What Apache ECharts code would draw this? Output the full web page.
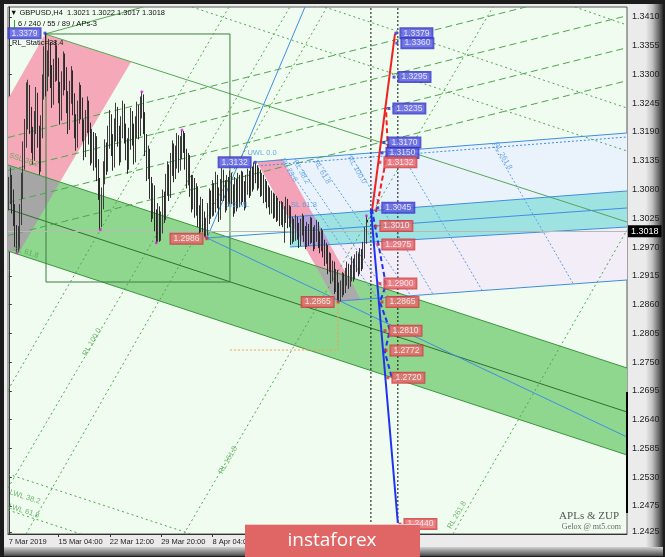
<!DOCTYPE html>
<html><head><meta charset="utf-8">
<script src="https://cdn.jsdelivr.net/npm/echarts@6/dist/echarts.min.js"></script>
<style>
html,body{margin:0;padding:0;background:#1c1c1c;overflow:hidden}
#frame{position:absolute;left:0;top:0;width:665px;height:557px;background:#1c1c1c;overflow:hidden}
#panel{position:absolute;left:4px;top:4px;width:646px;height:546px;background:#ebebeb}
#rg{position:absolute;left:645px;top:4px;width:18px;height:550px;background:linear-gradient(to right,#eeeeee 0%,#c2c2c2 40%,#6e6e6e 75%,#2a2a2a 100%)}
#bg{position:absolute;left:4px;top:547px;width:659px;height:9px;background:linear-gradient(to bottom,#d2d2d2,#4a4a4a)}
#chart{position:absolute;left:0;top:0;width:665px;height:557px}
</style></head>
<body><div id="frame"><div id="panel"></div><div id="rg"></div><div id="bg"></div><div id="chart"></div></div>
<script>
// ---- OHLC bars (H4), each [open, close, low, high]
const bars = [
[1.3060,1.3072,1.3040,1.3104],[1.3072,1.3088,1.3052,1.3122],[1.3088,1.3058,1.3034,1.3108],[1.3058,1.3036,1.3010,1.3080],[1.3036,1.2990,1.2970,1.3052],[1.2990,1.2968,1.2959,1.3012],
[1.2968,1.2978,1.2960,1.3010],[1.2978,1.3025,1.2966,1.3052],[1.3025,1.3085,1.3012,1.3112],[1.3085,1.3142,1.3062,1.3172],[1.3142,1.3186,1.3118,1.3215],[1.3186,1.3238,1.3160,1.3285],[1.3238,1.3262,1.3195,1.3290],[1.3262,1.3214,1.3186,1.3280],
[1.3214,1.3176,1.3150,1.3238],[1.3176,1.3152,1.3128,1.3200],[1.3152,1.3205,1.3135,1.3230],[1.3205,1.3248,1.3186,1.3276],[1.3248,1.3182,1.3160,1.3265],[1.3182,1.3130,1.3108,1.3202],[1.3130,1.3196,1.3114,1.3222],[1.3196,1.3275,1.3178,1.3300],[1.3275,1.3325,1.3252,1.3354],[1.3325,1.3290,1.3258,1.3379],
[1.3290,1.3318,1.3268,1.3346],[1.3318,1.3342,1.3296,1.3368],[1.3342,1.3296,1.3274,1.3362],[1.3296,1.3260,1.3236,1.3318],[1.3260,1.3305,1.3242,1.3330],[1.3305,1.3338,1.3286,1.3365],[1.3338,1.3312,1.3288,1.3356],[1.3312,1.3268,1.3245,1.3332],[1.3268,1.3230,1.3204,1.3286],[1.3230,1.3282,1.3212,1.3306],[1.3282,1.3320,1.3260,1.3344],
[1.3320,1.3295,1.3270,1.3340],[1.3295,1.3248,1.3226,1.3314],[1.3248,1.3212,1.3186,1.3268],[1.3212,1.3265,1.3194,1.3288],[1.3265,1.3290,1.3244,1.3316],[1.3290,1.3246,1.3222,1.3308],[1.3246,1.3202,1.3178,1.3264],[1.3202,1.3178,1.3154,1.3224],[1.3178,1.3226,1.3160,1.3250],[1.3226,1.3262,1.3206,1.3285],[1.3262,1.3238,1.3214,1.3280],
[1.3238,1.3196,1.3172,1.3256],[1.3196,1.3160,1.3136,1.3214],[1.3160,1.3208,1.3142,1.3232],[1.3208,1.3232,1.3188,1.3258],[1.3232,1.3190,1.3166,1.3250],[1.3190,1.3150,1.3126,1.3208],[1.3150,1.3172,1.3130,1.3196],[1.3172,1.3140,1.3116,1.3190],[1.3140,1.3165,1.3122,1.3188],[1.3165,1.3120,1.3096,1.3182],[1.3120,1.3085,1.3060,1.3138],
[1.3085,1.3020,1.3003,1.3102],[1.3020,1.3060,1.3008,1.3084],
[1.3060,1.3110,1.3042,1.3134],[1.3110,1.3150,1.3090,1.3176],[1.3150,1.3132,1.3108,1.3170],[1.3132,1.3178,1.3114,1.3202],[1.3178,1.3205,1.3158,1.3232],[1.3205,1.3168,1.3144,1.3224],[1.3168,1.3140,1.3116,1.3186],[1.3140,1.3192,1.3122,1.3216],[1.3192,1.3220,1.3172,1.3246],[1.3220,1.3185,1.3162,1.3238],[1.3185,1.3150,1.3126,1.3202],[1.3150,1.3198,1.3132,1.3220],
[1.3198,1.3226,1.3178,1.3250],[1.3226,1.3190,1.3168,1.3244],[1.3190,1.3160,1.3136,1.3206],[1.3160,1.3135,1.3110,1.3178],[1.3135,1.3176,1.3118,1.3198],[1.3176,1.3212,1.3156,1.3236],[1.3212,1.3188,1.3164,1.3230],[1.3188,1.3150,1.3128,1.3206],[1.3150,1.3198,1.3132,1.3220],[1.3198,1.3224,1.3178,1.3248],[1.3224,1.3200,1.3176,1.3242],[1.3200,1.3238,1.3182,1.3258],[1.3238,1.3252,1.3216,1.3267],
[1.3252,1.3210,1.3186,1.3262],[1.3210,1.3168,1.3144,1.3228],[1.3168,1.3120,1.3096,1.3186],[1.3120,1.3140,1.3100,1.3164],[1.3140,1.3086,1.3062,1.3158],[1.3086,1.3042,1.3018,1.3104],[1.3042,1.3070,1.3024,1.3092],[1.3070,1.3024,1.3000,1.3088],[1.3024,1.2996,1.2978,1.3042],[1.2996,1.3030,1.2980,1.3054],[1.3030,1.2990,1.2980,1.3048],
[1.2990,1.3015,1.2982,1.3038],[1.3015,1.3058,1.2996,1.3080],[1.3058,1.3040,1.3016,1.3076],[1.3040,1.3088,1.3022,1.3110],[1.3088,1.3110,1.3068,1.3134],[1.3110,1.3082,1.3058,1.3128],[1.3082,1.3126,1.3064,1.3150],[1.3126,1.3150,1.3106,1.3174],[1.3150,1.3118,1.3094,1.3168],[1.3118,1.3140,1.3100,1.3164],[1.3140,1.3166,1.3120,1.3188],[1.3166,1.3135,1.3112,1.3184],[1.3135,1.3158,1.3116,1.3182],[1.3158,1.3180,1.3138,1.3194],[1.3180,1.3172,1.3150,1.3192],
[1.3172,1.3140,1.3118,1.3188],[1.3140,1.3105,1.3082,1.3158],[1.3105,1.3128,1.3088,1.3150],[1.3128,1.3090,1.3066,1.3146],[1.3090,1.3060,1.3036,1.3108],[1.3060,1.3085,1.3042,1.3108],[1.3085,1.3048,1.3026,1.3102],[1.3048,1.3070,1.3030,1.3092],[1.3070,1.3030,1.3008,1.3086],[1.3030,1.3012,1.2994,1.3050],[1.3012,1.3045,1.2998,1.3066],[1.3045,1.3020,1.2998,1.3062],[1.3020,1.3000,1.2990,1.3038],[1.3000,1.3005,1.2988,1.3026],
[1.3005,1.3032,1.2992,1.3054],[1.3032,1.3060,1.3014,1.3082],[1.3060,1.3045,1.3024,1.3078],[1.3045,1.3075,1.3028,1.3098],[1.3075,1.3052,1.3030,1.3092],[1.3052,1.3090,1.3036,1.3114],[1.3090,1.3066,1.3044,1.3108],[1.3066,1.3040,1.3018,1.3084],[1.3040,1.3078,1.3022,1.3100],[1.3078,1.3105,1.3058,1.3121],[1.3105,1.3080,1.3058,1.3118],[1.3080,1.3058,1.3036,1.3098],[1.3058,1.3086,1.3040,1.3108],[1.3086,1.3070,1.3048,1.3104],[1.3070,1.3095,1.3052,1.3116],
[1.3095,1.3074,1.3052,1.3112],[1.3074,1.3050,1.3028,1.3090],[1.3050,1.3082,1.3034,1.3104],[1.3082,1.3060,1.3038,1.3100],[1.3060,1.3090,1.3044,1.3112],[1.3090,1.3068,1.3046,1.3108],[1.3068,1.3095,1.3050,1.3116],[1.3095,1.3078,1.3056,1.3114],[1.3078,1.3060,1.3040,1.3096],[1.3060,1.3088,1.3044,1.3108],[1.3088,1.3100,1.3070,1.3120],[1.3100,1.3085,1.3064,1.3116],[1.3085,1.3108,1.3068,1.3126],[1.3108,1.3096,1.3076,1.3124],[1.3096,1.3120,1.3080,1.3132],
[1.3120,1.3112,1.3092,1.3130],[1.3112,1.3098,1.3078,1.3126],[1.3098,1.3105,1.3082,1.3122],[1.3105,1.3086,1.3066,1.3118],[1.3086,1.3094,1.3068,1.3112],[1.3094,1.3075,1.3054,1.3108],[1.3075,1.3082,1.3056,1.3100],[1.3082,1.3064,1.3044,1.3096],[1.3064,1.3070,1.3046,1.3088],[1.3070,1.3052,1.3032,1.3084],[1.3052,1.3060,1.3034,1.3078],
[1.3060,1.3044,1.3024,1.3074],[1.3044,1.3056,1.3026,1.3072],[1.3056,1.3038,1.3018,1.3068],[1.3038,1.3046,1.3020,1.3064],[1.3046,1.3030,1.3010,1.3058],[1.3030,1.3042,1.3012,1.3058],[1.3042,1.3028,1.3008,1.3056],[1.3028,1.3035,1.2978,1.3048],[1.3035,1.3048,1.3016,1.3066],[1.3048,1.3026,1.3006,1.3062],[1.3026,1.3034,1.3008,1.3050],
[1.3034,1.2992,1.2974,1.3048],[1.2992,1.3010,1.2976,1.3028],[1.3010,1.2998,1.2980,1.3024],[1.2998,1.3015,1.2982,1.3032],[1.3015,1.3002,1.2984,1.3028],[1.3002,1.2985,1.2968,1.3016],[1.2985,1.3008,1.2972,1.3024],[1.3008,1.3018,1.2992,1.3034],[1.3018,1.2996,1.2980,1.3030],[1.2996,1.2982,1.2966,1.3010],[1.2982,1.3000,1.2970,1.3018],
[1.3000,1.2990,1.2972,1.3014],[1.2990,1.3012,1.2976,1.3028],[1.3012,1.2995,1.2978,1.3026],[1.2995,1.2978,1.2962,1.3008],[1.2978,1.2996,1.2966,1.3012],[1.2996,1.3005,1.2980,1.3022],[1.3005,1.2986,1.2968,1.3018],[1.2986,1.2975,1.2958,1.3000],[1.2975,1.2990,1.2962,1.3006],[1.2990,1.2970,1.2950,1.3002],
[1.2970,1.2955,1.2934,1.2984],[1.2955,1.2962,1.2938,1.2978],[1.2962,1.2938,1.2918,1.2974],[1.2938,1.2945,1.2922,1.2960],[1.2945,1.2920,1.2900,1.2958],[1.2920,1.2928,1.2904,1.2944],[1.2928,1.2900,1.2880,1.2942],[1.2900,1.2912,1.2884,1.2928],[1.2912,1.2885,1.2868,1.2926],[1.2885,1.2875,1.2865,1.2902],[1.2875,1.2890,1.2866,1.2906],
[1.2890,1.2905,1.2874,1.2922],[1.2905,1.2895,1.2878,1.2920],[1.2895,1.2912,1.2882,1.2930],[1.2912,1.2925,1.2896,1.2942],[1.2925,1.2908,1.2890,1.2938],[1.2908,1.2918,1.2894,1.2936],[1.2918,1.2935,1.2904,1.2952],[1.2935,1.2920,1.2904,1.2948],[1.2920,1.2938,1.2908,1.2956],[1.2938,1.2945,1.2922,1.2962],[1.2945,1.2930,1.2914,1.2958],[1.2930,1.2952,1.2918,1.2968],[1.2952,1.2940,1.2924,1.2966],[1.2940,1.2962,1.2928,1.2980],[1.2962,1.2990,1.2948,1.3008],[1.2990,1.3021,1.2976,1.3030],[1.3021,1.3018,1.3017,1.3022]
];
const lastPrice = 1.3018;

// ---- axis ticks
const timeLabelBars = [0, 31, 63, 95, 127];
const timeLabels = ['7 Mar 2019', '15 Mar 04:00', '22 Mar 12:00', '29 Mar 20:00', '8 Apr 04:00'];
const priceTicks = [1.3410,1.3355,1.3300,1.3245,1.3190,1.3135,1.3080,1.3025,1.2970,1.2915,1.2860,1.2805,1.2750,1.2695,1.2640,1.2585,1.2530,1.2475,1.2425];

// ---- shaded zones [bar, price]
const greenBand = [[-0.5,1.31269],[385.5,1.27386],[385.5,1.25722],[-0.5,1.29624]];
const pinkZone = [[22.6,1.33775],[76.2,1.33239],[31.9,1.30944],[-0.5,1.31269],[-0.5,1.32531]];
const grayZone = [[-0.5,1.31269],[31.9,1.30944],[7.0,1.29624],[-0.5,1.29624]];
const blueTint = [[170.3,1.31384],[385.5,1.31881],[385.5,1.30772],[190.1,1.30309]];
const lavenderZone = [[200.5,1.29746],[385.5,1.30083],[385.5,1.29069],[219.6,1.28696]];
const cyanBand = [[175.3,1.30274],[385.5,1.30772],[385.5,1.30083],[175.3,1.29701]];
const pinkBand = [[154.7,1.31326],[170.3,1.31384],[219.6,1.28687],[204.0,1.28648]];
const purpleZone = [[174.2,1.30272],[190.1,1.30309],[200.5,1.29746],[184.4,1.29718]];
const grayZone2 = [[191.5,1.29328],[211.7,1.29134],[219.6,1.28687],[204.0,1.28648]];

// ---- lines [bar, price]
const chanTop = [[-0.5,1.31269],[385.5,1.27386]];
const chanBot = [[-0.5,1.29624],[385.5,1.25722]];
const chanMid = [[-0.5,1.30427],[385.5,1.26544]];
const upperGreen = [[22.6,1.33775],[385.5,1.30179]];
const greenSteep = [[22.6,1.33775],[83.7,1.34291]];
const boxRect = [[23.2,1.33775],[137.9,1.33775],[137.9,1.29031],[23.2,1.29031],[23.2,1.33775]];
const greenDashed = [
  [[-0.5,1.31795],[322.4,1.34291]],
  [[-0.5,1.31164],[385.5,1.34124]],
  [[-0.5,1.30552],[385.5,1.33512]],
  [[-0.5,1.29921],[385.5,1.32881]]
];
const greenDotted = [
  [[114.2,1.34291],[385.5,1.31537]],
  [[197.1,1.34291],[385.5,1.32359]],
  [[353.0,1.34291],[385.5,1.33947]],
  [[-0.5,1.25358],[113.6,1.24211]],
  [[-0.5,1.24670],[45.0,1.24211]],
  [[-0.5,1.25091],[175.3,1.34291]],
  [[109.2,1.24211],[301.9,1.34291]],
  [[276.9,1.24211],[385.5,1.30026]],
  [[-0.5,1.26965],[137.3,1.34291]],
  [[10.7,1.24211],[198.4,1.34291]]
];
const blueTop = [[153.6,1.31326],[385.5,1.31881]];
const blueTopDot = [[154.7,1.31250],[385.5,1.31805]];
const cyanTop = [[175.3,1.30274],[385.5,1.30772]];
const cyanMid = [[123.6,1.29873],[385.5,1.30447]];
const cyanBot = [[175.3,1.29701],[385.5,1.30083]];
const blueLower = [[205.9,1.28668],[385.5,1.29069]];
const bluePivotDown = [[123.6,1.29873],[385.5,1.26066]];
const bluePivotUp = [[123.6,1.29873],[184.7,1.34291]];
const blueRL = [
  [[170.3,1.31384],[229.6,1.28725]],
  [[178.4,1.31384],[237.0,1.28744]],
  [[191.5,1.31422],[250.0,1.28801]],
  [[212.8,1.31479],[264.5,1.28801]],
  [[243.9,1.31537],[295.0,1.28878]],
  [[301.2,1.31690],[351.7,1.29012]]
];
const orangeDot = [[137.9,1.27730],[205.2,1.27730],[205.2,1.28648]];
const vLine1 = [[225.8,1.24211],[225.8,1.34291]];
const vLine2 = [[242.6,1.24211],[242.6,1.34291]];
const zupRed = [[226.4,1.30370],[240.8,1.33775]];
const zupRedDash = [[228.9,1.30370],[236.4,1.31556],[235.2,1.32359]];
const zupBlue = [[225.8,1.30427],[242.6,1.24421]];
const zupBlueDash = [[226.4,1.30427],[235.2,1.28974],[231.4,1.28648],[237.6,1.28113],[234.5,1.27692],[238.9,1.27195]];

// ---- ZUP price labels
const zupBars = [241.4,242.0,240.2,237.0,233.9,232.7,231.4,230.1,228.9,230.1,231.4,232.7,234.6,235.2,236.4,243.9];
const zupPrices = [1.3379,1.3360,1.3295,1.3235,1.3170,1.3150,1.3132,1.3045,1.3010,1.2975,1.2900,1.2865,1.2810,1.2772,1.2720,1.2440];
const zupKinds = ['b','b','b','b','b','b','r','b','r','r','r','r','r','r','r','r'];
const pivotBars = [22.6,153.6,123.6,205.4];
const pivotPrices = [1.3379,1.3132,1.2986,1.2865];
const pivotKinds = ['b','b','r','r'];
const extremeBars = [5,57,83,92,108,123,223];
const extremePrices = [1.2959,1.3003,1.3267,1.2978,1.3194,1.2988,1.3030];

// ---- level captions
const captions = [
  {t:'UWL 0.0', b:157.9, p:1.31499, c:'b', r:0},
  {t:'RL 23.6', b:174.7, p:1.31173, c:'b', r:-60},
  {t:'RL 38.2', b:182.4, p:1.31135, c:'b', r:-60},
  {t:'RL 61.8', b:195.3, p:1.31135, c:'b', r:-60},
  {t:'RL 100.0', b:217.1, p:1.31173, c:'b', r:-60},
  {t:'RL 261.8', b:308.1, p:1.31441, c:'b', r:-60},
  {t:'1/2 ML', b:142.9, p:1.30504, c:'b', r:0},
  {t:'SL 61.8', b:184.0, p:1.30504, c:'b', r:0},
  {t:'SSL 38.2', b:9.5, p:1.31365, c:'g', r:-18},
  {t:'SL 61.8', b:10.7, p:1.29605, c:'g', r:-18},
  {t:'RL 100.0', b:51.9, p:1.27883, c:'g', r:60},
  {t:'RL 161.8', b:136.7, p:1.25626, c:'g', r:60},
  {t:'RL 261.8', b:279.4, p:1.24574, c:'g', r:60},
  {t:'LWL 38.2', b:10.1, p:1.24918, c:'g', r:-18},
  {t:'LWL 61.8', b:9.5, p:1.24651, c:'g', r:-18}
];

const FONT = 'Liberation Sans';
const BLUE = '#3f8ee0';
const GREEN = '#4ea64e';

function poly(pts, color, z) {
  return {type:'custom', coordinateSystem:'cartesian2d', silent:true, clip:true, z:z, data:[pts[0]],
    renderItem:function(params, api){
      return {type:'polygon', shape:{points: pts.map(function(p){return api.coord(p);})}, style:{fill:color}};
    }};
}
function line(pts, color, type, width, z) {
  return {type:'line', data:pts, symbol:'none', silent:true, clip:true, z:z||3,
    lineStyle:{color:color, width:width||1, type:type||'solid'}};
}
function boxLabel(kind, pos) {
  const red = kind === 'r';
  return {show:true, position:pos, distance:3, fontFamily:FONT, fontSize:8.5, color:'#fff',
    backgroundColor: red ? '#e8656b' : '#5656e0', borderColor: red ? '#c83838' : '#2f2fc0', borderWidth:1,
    padding:[1,3,0,3], formatter:function(p){return p.value[1].toFixed(4);}};
}

const series = [
  poly(blueTint, '#eaf3fb', 1),
  poly(lavenderZone, '#f3edf8', 1),
  poly(greenBand, '#8fd68f', 1),
  poly(pinkZone, '#f5a9b8', 1),
  poly(grayZone, '#a6a6a6', 1),
  poly(cyanBand, '#9fe2e2', 1),
  poly(pinkBand, '#f3a2b7', 1),
  poly(purpleZone, '#b5a0de', 1),
  poly(grayZone2, '#ababab', 1),
  line(chanTop, '#3c963c'), line(chanBot, '#3c963c'), line(chanMid, '#2f6f2f'),
  line(upperGreen, '#56a656'), line(greenSteep, '#56a656'), line(boxRect, '#3f7c3f'),
  line(blueTop, BLUE), line(blueTopDot, BLUE, [2,2]),
  line(cyanTop, BLUE), line(cyanMid, BLUE), line(cyanBot, BLUE),
  line(blueLower, BLUE), line(bluePivotDown, BLUE), line(bluePivotUp, BLUE),
  line(orangeDot, '#f0a050', [2,2]),
  line(vLine1, '#111', [2,2]), line(vLine2, '#111', [2,2])
];
greenDashed.forEach(function(l){ series.push(line(l, GREEN, [7,4])); });
greenDotted.forEach(function(l){ series.push(line(l, GREEN, [2,3])); });
blueRL.forEach(function(l){ series.push(line(l, '#5aa0e8', [2,2])); });

series.push({
  type:'candlestick', z:5, silent:true, barWidth:1.2,
  data: bars.map(function(b, i){ return [i, b[0], b[1], b[2], b[3]]; }),
  encode:{x:0, y:[1,2,3,4]},
  itemStyle:{color:'#3c3c3c', color0:'#2a2a2a', borderColor:'#3c3c3c', borderColor0:'#2a2a2a', borderWidth:1},
  markLine:{silent:true, symbol:'none', animation:false,
    lineStyle:{color:'#b8b8b8', type:'solid', width:1},
    label:{show:true, position:'end', distance:1, formatter: lastPrice.toFixed(4), fontFamily:FONT, fontSize:9,
      color:'#fff', backgroundColor:'#000', padding:[2,3,1,3]},
    data:[{yAxis:lastPrice}]}
});

series.push(line(zupRed, '#ee2222', 'solid', 2, 6));
series.push(line(zupRedDash, '#ee2222', [5,3], 2, 6));
series.push(line(zupBlue, '#2233ee', 'solid', 2, 6));
series.push(line(zupBlueDash, '#2233ee', [5,3], 2, 6));

series.push({type:'scatter', z:8, silent:true, symbol:'rect', symbolSize:3,
  data: zupBars.map(function(b, i){ return {value:[b, zupPrices[i]],
    itemStyle:{color: zupKinds[i]==='r' ? '#d83030' : '#3030d0'}, label: boxLabel(zupKinds[i], 'right')}; })
});
series.push({type:'scatter', z:8, silent:true, symbol:'rect', symbolSize:3,
  data: pivotBars.map(function(b, i){ return {value:[b, pivotPrices[i]],
    itemStyle:{color: pivotKinds[i]==='r' ? '#d83030' : '#3030d0'}, label: boxLabel(pivotKinds[i], 'left')}; })
});
series.push({type:'scatter', z:7, silent:true, symbolSize:3, itemStyle:{color:'#e020e0'},
  data: extremeBars.map(function(b, i){ return [b, extremePrices[i]]; })});
series.push({type:'scatter', z:7, silent:true, symbolSize:0,
  data: captions.map(function(c){ return {value:[c.b, c.p], name:c.t,
    label:{show:true, position:'inside', rotate:c.r, formatter:c.t, fontFamily:FONT, fontSize:7.5,
      color: c.c==='g' ? '#4ea64e' : '#4a96e6'}}; })});

const chart = echarts.init(document.getElementById('chart'), null, {renderer:'canvas'});
chart.setOption({
  animation:false,
  backgroundColor:'transparent',
  grid:{left:8, right:38, top:7, bottom:23, show:true, backgroundColor:'#f0fcf0', borderColor:'#555', borderWidth:1},
  xAxis:{type:'value', min:-0.5, max:385.5, splitLine:{show:false},
    axisLine:{show:true, lineStyle:{color:'#333'}},
    axisTick:{show:true, customValues:timeLabelBars.slice(1), length:3, inside:false, lineStyle:{color:'#333'}},
    axisLabel:{show:true, customValues:timeLabelBars, align:'left', margin:4, fontFamily:FONT, fontSize:7.5, color:'#222',
      formatter:function(v){ const k = timeLabelBars.indexOf(Math.round(v)); return k >= 0 ? timeLabels[k] : ''; }}},
  yAxis:{type:'value', position:'right', min:1.24211, max:1.34291, scale:true, splitLine:{show:false},
    axisLine:{show:true, lineStyle:{color:'#333'}},
    axisTick:{show:true, customValues:priceTicks, length:3, lineStyle:{color:'#333'}},
    axisLabel:{show:true, customValues:priceTicks, margin:5, fontFamily:FONT, fontSize:9, color:'#222',
      formatter:function(v){ return v.toFixed(4); }}},
  graphic:[
    {type:'rect', z:50, shape:{x:626, y:392, width:2, height:121}, style:{fill:'#000'}},
    {type:'text', z:50, x:10, y:9, style:{text:'\u25BC GBPUSD,H4  1.3021 1.3022 1.3017 1.3018', font:'7.5px "Liberation Sans"', fill:'#111'}},
    {type:'rect', z:50, shape:{x:14, y:20, width:1, height:9}, style:{fill:'#3c963c'}},
    {type:'text', z:50, x:18, y:20, style:{text:'6 / 240 / 55 / 89 / APs-3', font:'7.5px "Liberation Sans"', fill:'#111'}},
    {type:'text', z:50, x:12, y:39, style:{text:'RL_Static=38.4', font:'7.5px "Liberation Sans"', fill:'#111'}},
    {type:'text', z:50, x:619, y:511, style:{text:'APLs & ZUP', font:'11px "Liberation Serif"', fill:'#555', align:'right'}},
    {type:'text', z:50, x:621, y:523, style:{text:'Gelox @ mt5.com', font:'8px "Liberation Serif"', fill:'#666', align:'right'}},
    {type:'rect', z:60, shape:{x:245, y:524, width:175, height:33}, style:{fill:'#e06565'}},
    {type:'rect', z:61, shape:{x:245, y:524, width:175, height:1}, style:{fill:'#f3c8c8'}},
    {type:'text', z:62, x:332, y:541, style:{text:'instaforex', font:'19px "Open Sans"', fill:'#ffffff', align:'center', verticalAlign:'middle'}}
  ],
  series: series
});
</script>
</body></html>
